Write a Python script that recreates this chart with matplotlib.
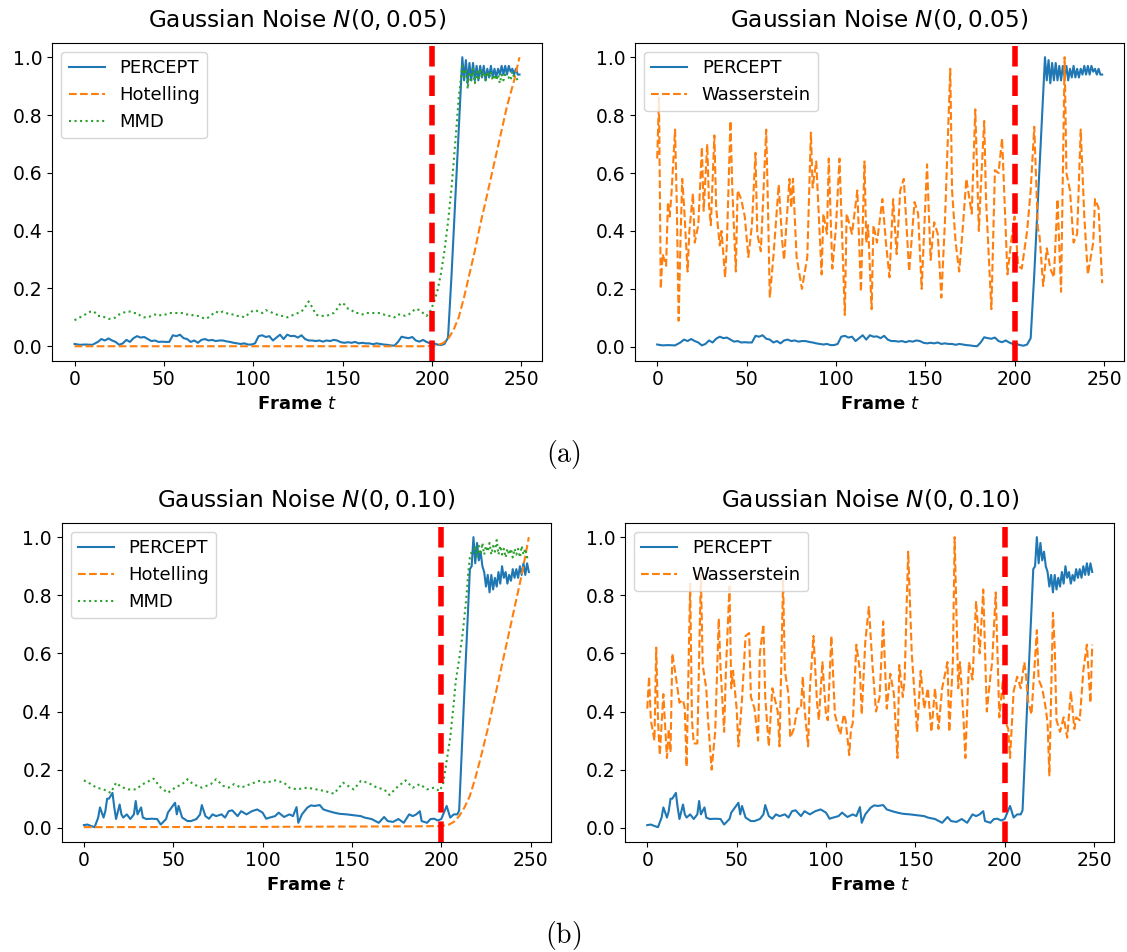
import matplotlib
matplotlib.use("Agg")
import matplotlib.pyplot as plt

# ---- data ----
change_point = 200

# (a) N(0, 0.05)
percept_a_t = [0, 3, 6, 10, 13, 15, 17, 19, 21, 23, 25, 27, 29, 31, 33, 35, 37, 39, 41, 43,
               45, 47, 49, 51, 53, 55, 57, 59, 61, 63, 65, 67, 69, 71, 73, 75, 77, 79, 81, 83,
               85, 87, 89, 91, 93, 95, 97, 99, 101, 103, 105, 107, 109, 111, 113, 115, 117, 119, 121, 123,
               125, 127, 129, 131, 133, 135, 137, 139, 141, 143, 145, 147, 149, 151, 153, 155, 157, 159, 161, 163,
               165, 167, 169, 171, 173, 175, 177, 179, 181, 183, 185, 187, 189, 191, 193, 195, 197, 199, 201, 203,
               205, 207, 209, 211, 213, 215,
               217, 218, 219, 220, 221, 222, 223, 224, 225, 226, 227, 228, 229, 230, 231, 232, 233,
               234, 235, 236, 237, 238, 239, 240, 241, 242, 243, 244, 245, 246, 247, 248, 249]
percept_a = [0.008, 0.005, 0.006, 0.005, 0.015, 0.025, 0.02, 0.027, 0.02, 0.015, 0.005, 0.01, 0.022, 0.015, 0.028, 0.035, 0.03, 0.032, 0.025, 0.018,
             0.02, 0.015, 0.016, 0.015, 0.015, 0.038, 0.035, 0.04, 0.028, 0.025, 0.015, 0.02, 0.012, 0.022, 0.025, 0.02, 0.022, 0.018, 0.02, 0.02,
             0.017, 0.015, 0.012, 0.01, 0.008, 0.01, 0.006, 0.006, 0.01, 0.035, 0.038, 0.032, 0.035, 0.02, 0.03, 0.04, 0.025, 0.04, 0.035, 0.036,
             0.03, 0.038, 0.025, 0.02, 0.02, 0.018, 0.02, 0.016, 0.02, 0.018, 0.022, 0.02, 0.014, 0.012, 0.014, 0.012, 0.015, 0.01, 0.012, 0.01,
             0.01, 0.007, 0.01, 0.008, 0.006, 0.005, 0.003, 0.002, 0.015, 0.033, 0.03, 0.028, 0.032, 0.02, 0.016, 0.022, 0.015, 0.01, 0.01, 0.006,
             0.004, 0.008, 0.03, 0.25, 0.5, 0.75,
             1.0, 0.92, 0.99, 0.91, 0.98, 0.92, 0.98, 0.92, 0.97, 0.92, 0.97, 0.93, 0.97, 0.92, 0.96, 0.93, 0.97,
             0.93, 0.96, 0.93, 0.96, 0.94, 0.97, 0.94, 0.97, 0.94, 0.97, 0.95, 0.96, 0.94, 0.96, 0.94, 0.94]

hotelling_a_t = [0, 100, 195, 200, 203, 206, 209, 212, 215, 218, 221, 224, 227, 230, 234, 238, 242, 246, 249]
hotelling_a = [0.0, 0.0, 0.0, 0.001, 0.004, 0.01, 0.025, 0.055, 0.1, 0.17, 0.25, 0.33, 0.42, 0.5, 0.61, 0.72, 0.83, 0.92, 1.0]

mmd_a_t = [0, 3, 6, 9, 11, 13, 15, 17, 19, 21, 23, 25, 27, 29, 31, 33, 35, 37, 39, 41,
           43, 45, 47, 49, 51, 53, 55, 57, 59, 61, 63, 65, 67, 69, 71, 73, 75, 77, 79, 81,
           83, 85, 87, 89, 91, 93, 95, 97, 99, 101, 103, 105, 107, 109, 111, 113, 115, 117, 119, 121,
           123, 125, 127, 129, 131, 133, 135, 137, 139, 141, 143, 145, 147, 149, 151, 153, 155, 157, 159, 161,
           163, 165, 167, 169, 171, 173, 175, 177, 179, 181, 183, 185, 187, 189, 191, 193, 195, 197, 199, 201,
           203, 205, 207, 209, 211, 213, 215,
           217, 218, 219, 220, 221, 222, 223, 224, 225, 226, 227, 228, 229, 230, 231, 232, 233,
           234, 235, 236, 237, 238, 239, 240, 241, 242, 243, 244, 245, 246, 247, 248, 249]
mmd_a = [0.09, 0.1, 0.11, 0.12, 0.12, 0.105, 0.105, 0.1, 0.095, 0.095, 0.1, 0.11, 0.115, 0.12, 0.12, 0.115, 0.115, 0.105, 0.1, 0.1,
         0.105, 0.11, 0.105, 0.11, 0.11, 0.115, 0.115, 0.115, 0.115, 0.115, 0.11, 0.11, 0.105, 0.105, 0.1, 0.095, 0.1, 0.11, 0.12, 0.115,
         0.12, 0.115, 0.11, 0.11, 0.105, 0.105, 0.1, 0.11, 0.12, 0.125, 0.12, 0.115, 0.125, 0.12, 0.115, 0.11, 0.105, 0.105, 0.1, 0.105,
         0.11, 0.115, 0.12, 0.135, 0.155, 0.135, 0.11, 0.105, 0.105, 0.105, 0.11, 0.115, 0.13, 0.15, 0.145, 0.13, 0.125, 0.115, 0.115, 0.11,
         0.115, 0.115, 0.115, 0.115, 0.115, 0.11, 0.105, 0.105, 0.1, 0.11, 0.11, 0.105, 0.11, 0.12, 0.13, 0.125, 0.115, 0.105, 0.12, 0.15,
         0.19, 0.25, 0.33, 0.43, 0.55, 0.7, 0.86,
         0.97, 0.93, 0.96, 0.89, 0.95, 0.92, 0.96, 0.91, 0.95, 0.92, 0.96, 0.93, 0.95, 0.92, 0.95, 0.93, 0.95,
         0.92, 0.94, 0.92, 0.94, 0.91, 0.94, 0.92, 0.94, 0.93, 0.93, 0.92, 0.95, 0.93, 0.93, 0.92, 0.92]

wass_a_t = [0, 1, 2, 3, 5, 6, 7, 8, 10, 11, 12, 13, 14, 15, 17, 18, 20, 21, 23, 25,
            26, 28, 29, 30, 32, 33, 35, 36, 38, 39, 41, 42, 44, 45, 47, 49, 51, 53, 55, 56,
            58, 61, 62, 63, 65, 68, 70, 71, 74, 75, 76, 78, 81, 84, 86, 87, 89, 92, 93, 95,
            96, 98, 100, 102, 105, 106, 109, 112, 114, 116, 117, 118, 120, 121, 123, 126, 128, 130, 132, 134,
            136, 138, 141, 144, 146, 148, 151, 153, 155, 157, 159, 161, 164, 165, 167, 169, 171, 173, 176, 178,
            180, 181, 183, 184, 187, 189, 191, 193, 196, 198, 200, 202, 204, 207, 209, 211, 213, 214, 216, 218,
            220, 222, 224, 226, 228, 229, 231, 233, 235, 237, 239, 241, 244, 245, 247, 249]
wass_a = [0.65, 0.86, 0.2, 0.32, 0.28, 0.5, 0.45, 0.53, 0.75, 0.48, 0.09, 0.36, 0.58, 0.49, 0.26, 0.4, 0.53, 0.36, 0.42, 0.69,
          0.47, 0.7, 0.49, 0.42, 0.73, 0.48, 0.35, 0.4, 0.24, 0.36, 0.78, 0.55, 0.26, 0.54, 0.51, 0.45, 0.31, 0.42, 0.67, 0.39,
          0.33, 0.75, 0.48, 0.17, 0.31, 0.56, 0.36, 0.3, 0.58, 0.48, 0.58, 0.31, 0.2, 0.31, 0.74, 0.55, 0.64, 0.25, 0.46, 0.39,
          0.65, 0.27, 0.41, 0.65, 0.11, 0.46, 0.39, 0.54, 0.19, 0.64, 0.36, 0.42, 0.13, 0.42, 0.36, 0.51, 0.36, 0.24, 0.51, 0.32,
          0.54, 0.58, 0.26, 0.5, 0.46, 0.2, 0.63, 0.3, 0.43, 0.39, 0.17, 0.43, 0.96, 0.54, 0.36, 0.26, 0.41, 0.58, 0.46, 0.82,
          0.4, 0.54, 0.78, 0.51, 0.13, 0.61, 0.6, 0.72, 0.25, 0.36, 0.45, 0.28, 0.27, 0.4, 0.54, 0.76, 0.41, 0.38, 0.21, 0.34,
          0.27, 0.24, 0.51, 0.19, 1.0, 0.6, 0.54, 0.36, 0.39, 0.75, 0.45, 0.25, 0.36, 0.51, 0.48, 0.22]

# (b) N(0, 0.10)
percept_b_t = [0, 2, 4, 6, 8, 9, 11, 12, 13, 14, 16, 17, 18, 20, 21, 22, 24, 26, 28, 29,
               30, 32, 33, 35, 38, 41, 43, 46, 47, 49, 51, 52, 53, 55, 58, 60, 63, 65, 66, 68,
               70, 72, 74, 77, 79, 81, 83, 86, 88, 91, 94, 97, 100, 102, 104, 107, 109, 112, 115, 117,
               119, 120, 122, 125, 127, 129, 132, 134, 137, 140, 143, 147, 151, 155, 157, 161, 165, 168, 170, 173,
               176, 179, 182, 184, 186, 188, 189, 192, 194, 196, 198, 200, 203, 205, 207, 209, 210, 213,
               216, 217, 218, 219, 220, 221, 222, 223, 224, 225, 226, 227, 228, 229, 230, 231, 232,
               233, 234, 235, 236, 237, 238, 239, 240, 241, 242, 243, 244, 245, 246, 247, 248, 249]
percept_b = [0.009, 0.011, 0.006, 0.002, 0.035, 0.07, 0.035, 0.057, 0.1, 0.1, 0.12, 0.07, 0.03, 0.08, 0.046, 0.035, 0.046, 0.03, 0.046, 0.092,
             0.046, 0.07, 0.035, 0.03, 0.031, 0.03, 0.011, 0.03, 0.052, 0.069, 0.086, 0.046, 0.075, 0.035, 0.023, 0.023, 0.03, 0.046, 0.078, 0.04,
             0.031, 0.046, 0.04, 0.046, 0.035, 0.057, 0.06, 0.04, 0.057, 0.046, 0.057, 0.063, 0.052, 0.031, 0.035, 0.04, 0.052, 0.037, 0.046, 0.04,
             0.071, 0.017, 0.046, 0.069, 0.077, 0.075, 0.078, 0.063, 0.057, 0.052, 0.048, 0.046, 0.043, 0.04, 0.035, 0.03, 0.017, 0.037, 0.023, 0.02,
             0.03, 0.017, 0.046, 0.04, 0.046, 0.057, 0.023, 0.017, 0.03, 0.031, 0.025, 0.03, 0.075, 0.035, 0.046, 0.046, 0.06, 0.48,
             0.89, 0.9, 1.0, 0.91, 0.98, 0.92, 0.95, 0.9, 0.88, 0.83, 0.87, 0.81, 0.87, 0.82, 0.86, 0.83, 0.88,
             0.84, 0.9, 0.86, 0.88, 0.84, 0.87, 0.85, 0.89, 0.86, 0.89, 0.86, 0.9, 0.87, 0.91, 0.87, 0.91, 0.88]

hotelling_b_t = [0, 100, 190, 200, 204, 207, 210, 213, 216, 219, 222, 226, 230, 235, 240, 245, 249]
hotelling_b = [0.002, 0.003, 0.005, 0.006, 0.01, 0.02, 0.04, 0.07, 0.11, 0.17, 0.24, 0.34, 0.45, 0.59, 0.73, 0.87, 1.0]

mmd_b_t = [0, 4, 7, 11, 15, 18, 21, 25, 29, 33, 39, 43, 47, 51, 55, 58, 61, 66, 71, 74,
           78, 81, 84, 88, 93, 98, 102, 107, 112, 115, 119, 125, 130, 135, 140, 145, 151, 155, 159, 164,
           168, 171, 175, 180, 184, 188, 192, 196, 199, 201, 203, 205, 207, 208, 210, 212, 214, 215, 216, 217,
           218, 219, 220, 221, 222, 223, 224, 225, 226, 227, 228, 229, 230, 231, 232, 233,
           234, 235, 236, 237, 238, 239, 240, 241, 242, 243, 244, 245, 246, 247, 248, 249]
mmd_b = [0.163, 0.15, 0.138, 0.132, 0.12, 0.155, 0.14, 0.132, 0.132, 0.15, 0.169, 0.138, 0.12, 0.138, 0.15, 0.167, 0.15, 0.138, 0.15, 0.167,
         0.144, 0.138, 0.15, 0.138, 0.15, 0.161, 0.155, 0.163, 0.155, 0.138, 0.132, 0.138, 0.132, 0.126, 0.117, 0.155, 0.132, 0.161, 0.155, 0.138,
         0.132, 0.113, 0.138, 0.163, 0.138, 0.15, 0.132, 0.138, 0.126, 0.15, 0.23, 0.31, 0.43, 0.5, 0.58, 0.67, 0.79, 0.87, 0.93, 0.95,
         0.95, 0.97, 0.93, 0.97, 0.94, 0.98, 0.94, 0.97, 0.95, 0.98, 0.94, 0.97, 0.95, 0.99, 0.94, 0.97,
         0.94, 0.96, 0.93, 0.96, 0.94, 0.96, 0.93, 0.96, 0.94, 0.96, 0.93, 0.97, 0.94, 0.96, 0.93, 0.94]

wass_b_t = [0, 1, 2, 4, 5, 6, 7, 9, 11, 12, 13, 14, 16, 18, 20, 21, 22, 24, 25, 26,
            28, 30, 31, 33, 34, 36, 38, 40, 41, 43, 44, 46, 47, 48, 50, 51, 53, 55, 57, 58,
            60, 62, 63, 65, 66, 68, 70, 73, 74, 76, 77, 79, 80, 82, 84, 86, 87, 88, 90, 91,
            93, 95, 96, 98, 100, 101, 103, 105, 108, 110, 111, 113, 114, 115, 117, 119, 120, 122, 124, 126,
            128, 130, 132, 134, 136, 138, 140, 141, 143, 144, 146, 148, 151, 153, 155, 157, 159, 161, 163, 165,
            168, 169, 171, 172, 174, 175, 177, 178, 180, 182, 184, 186, 188, 190, 192, 193, 195, 197, 199, 200,
            202, 203, 205, 207, 209, 211, 212, 213, 215, 218, 219, 221, 223, 224, 225, 227, 228, 229, 231, 233,
            235, 237, 239, 240, 242, 244, 246, 248, 249]
wass_b = [0.41, 0.52, 0.37, 0.3, 0.62, 0.37, 0.25, 0.46, 0.24, 0.34, 0.26, 0.6, 0.52, 0.43, 0.44, 0.41, 0.21, 0.84, 0.37, 0.29,
          0.29, 0.87, 0.56, 0.48, 0.37, 0.2, 0.33, 0.72, 0.55, 0.33, 0.54, 0.83, 0.48, 0.54, 0.41, 0.28, 0.44, 0.66, 0.67, 0.45,
          0.41, 0.3, 0.6, 0.7, 0.45, 0.28, 0.48, 0.4, 0.28, 0.85, 0.54, 0.46, 0.31, 0.34, 0.41, 0.41, 0.52, 0.41, 0.28, 0.48,
          0.66, 0.43, 0.37, 0.57, 0.39, 0.37, 0.66, 0.39, 0.32, 0.39, 0.37, 0.25, 0.34, 0.36, 0.63, 0.54, 0.39, 0.64, 0.76, 0.56,
          0.4, 0.45, 0.71, 0.41, 0.53, 0.46, 0.24, 0.56, 0.45, 0.51, 0.95, 0.6, 0.33, 0.54, 0.41, 0.48, 0.33, 0.48, 0.34, 0.48,
          0.57, 0.33, 0.57, 1.0, 0.48, 0.57, 0.37, 0.24, 0.57, 0.51, 0.78, 0.6, 0.82, 0.4, 0.52, 0.57, 0.81, 0.38, 0.51, 0.37,
          0.34, 0.24, 0.47, 0.52, 0.48, 0.57, 0.52, 0.44, 0.39, 0.68, 0.51, 0.48, 0.41, 0.36, 0.18, 0.74, 0.62, 0.37, 0.33, 0.38,
          0.31, 0.47, 0.34, 0.38, 0.37, 0.54, 0.63, 0.43, 0.63]

titles = [r"Gaussian Noise $N(0, 0.05)$", r"Gaussian Noise $N(0, 0.10)$"]
row_labels = [r"$\mathrm{(a)}$", r"$\mathrm{(b)}$"]
yticks = [0.0, 0.2, 0.4, 0.6, 0.8, 1.0]
xticks = [0, 50, 100, 150, 200, 250]

fig = plt.figure(figsize=(11.27, 9.52), dpi=100)
# axes boxes in figure fractions (rows were laid out separately in the original)
boxes = [[0.0464, 0.6211, 0.4343, 0.334], [0.5634, 0.6211, 0.4343, 0.334],
         [0.0547, 0.1159, 0.4343, 0.3351], [0.5546, 0.1159, 0.4343, 0.3351]]
axes = [fig.add_axes(b) for b in boxes]

rows = [
    (percept_a_t, percept_a, hotelling_a_t, hotelling_a, mmd_a_t, mmd_a, wass_a_t, wass_a),
    (percept_b_t, percept_b, hotelling_b_t, hotelling_b, mmd_b_t, mmd_b, wass_b_t, wass_b),
]

for r, (pt, pv, ht, hv, mt, mv, wt, wv) in enumerate(rows):
    ax_l, ax_r = axes[2 * r], axes[2 * r + 1]
    ax_l.plot(pt, pv, color="C0", lw=1.5, label="PERCEPT")
    ax_l.plot(ht, hv, color="C1", ls="--", lw=1.5, label="Hotelling")
    ax_l.plot(mt, mv, color="C2", ls=":", lw=1.5, label="MMD")
    ax_r.plot(pt, pv, color="C0", lw=1.5, label="PERCEPT")
    ax_r.plot(wt, wv, color="C1", ls="--", lw=1.5, label="Wasserstein")
    for ax in (ax_l, ax_r):
        ax.axvline(change_point, color="red", ls="--", lw=4)
        ax.set_title(titles[r], fontsize=16.7, pad=11)
        ax.set_xlabel(r"Frame $t$", fontsize=13, fontweight="bold")
        ax.set_xticks(xticks)
        ax.set_yticks(yticks)
        ax.tick_params(labelsize=13.5)
        ax.legend(loc="upper left", fontsize=13)
    fig.text(0.5, 0.523 if r == 0 else 0.017, row_labels[r], ha="center", va="center",
             fontsize=20, math_fontfamily="cm")

fig.savefig("out.png", dpi=100)
